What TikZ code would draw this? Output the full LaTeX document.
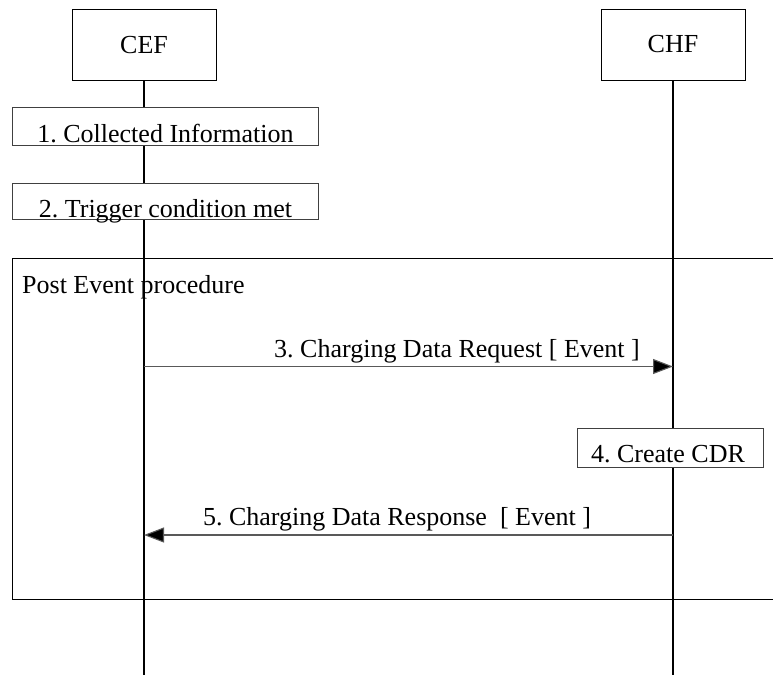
\documentclass[tikz,border=0pt]{standalone}
\usepackage{fontspec}
\setmainfont{Liberation Serif}
\usetikzlibrary{arrows.meta}
\frenchspacing
\begin{document}
\begin{tikzpicture}[x=1pt,y=-1pt,
  every node/.style={font=\fontsize{26}{30}\selectfont, inner sep=0pt},
  entity/.style={draw, line width=0.9pt, minimum width=144pt, minimum height=71pt},
  actbox/.style={draw=black!75, line width=0.9pt, fill=white},
  life/.style={line width=1.3pt},
  frame/.style={line width=0.9pt},
  msg/.style={draw=black!65, line width=1.1pt, -{Triangle[length=20pt,width=15pt,fill=black]}},
  lbl/.style={anchor=base}]
\useasboundingbox (0,0) rectangle (773,675);

% frame
\draw[frame] (773,258) -- (12,258) -- (12,599) -- (773,599);
\node[anchor=base west] (pe) at (22,293) {Post Event procedure};

% entities
\node[entity] (cef) at (144,45) {CEF};
\node[entity] (chf) at (673,44.5) {CHF};
\coordinate (cefend) at (144,675);
\coordinate (chfend) at (673,675);
\draw[life] (cef.south) -- (cefend);
\draw[life] (chf.south) -- (chfend);

% action boxes
\node[actbox, minimum width=306pt, minimum height=38pt] (b1) at (165,126) {};
\node[lbl] (t1) at (165.5,142) {1. Collected Information};
\node[actbox, minimum width=306pt, minimum height=36pt] (b2) at (165,201) {};
\node[lbl] (t2) at (165.5,217) {2. Trigger condition met};
\node[actbox, minimum width=186pt, minimum height=39pt] (b4) at (670,447.5) {};
\node[lbl] (t4) at (668,462) {4. Create CDR};

% messages
\coordinate (m3a) at (144,366.5);
\coordinate (m3b) at (673,366.5);
\draw[msg] (m3a) -- (m3b);
\node[lbl] (l3) at (457,357) {3. Charging Data Request [ Event ]};
\coordinate (m5a) at (673,535);
\coordinate (m5b) at (144,535);
\draw[msg] (m5a) -- (m5b);
\node[lbl] (l5) at (397,525) {5. Charging Data Response\ \ [ Event ]};
\end{tikzpicture}
\end{document}
